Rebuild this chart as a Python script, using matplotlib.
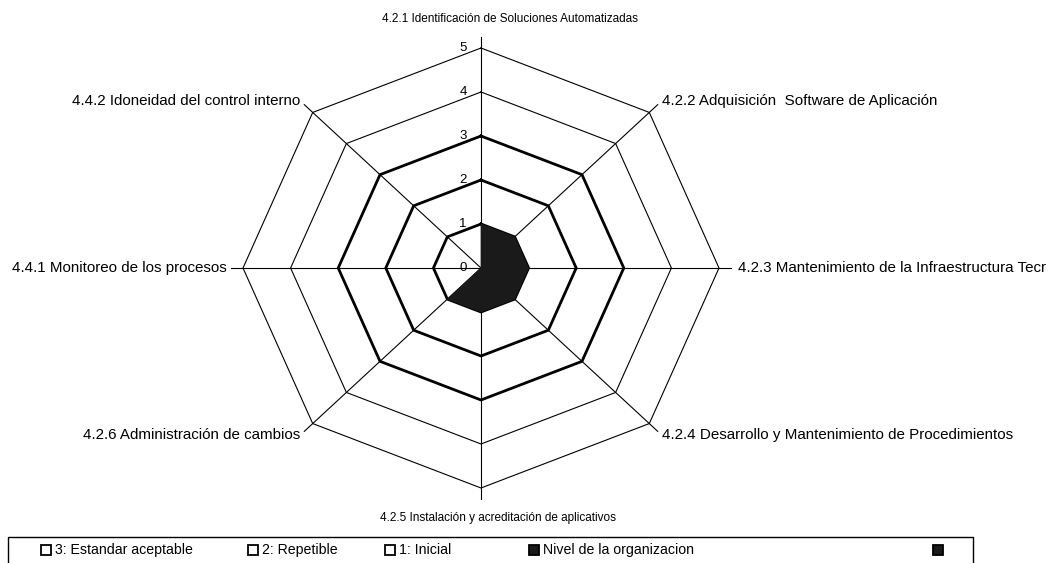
import numpy as np
import matplotlib
matplotlib.use("Agg")
import matplotlib.pyplot as plt
from matplotlib.patches import Rectangle

plt.rcParams['font.family'] = ['Liberation Sans', 'DejaVu Sans']

categories = [
    "4.2.1 Identificación de Soluciones Automatizadas",
    "4.2.2 Adquisición  Software de Aplicación",
    "4.2.3 Mantenimiento de la Infraestructura Tecr",
    "4.2.4 Desarrollo y Mantenimiento de Procedimientos",
    "4.2.5 Instalación y acreditación de aplicativos",
    "4.2.6 Administración de cambios",
    "4.4.1 Monitoreo de los procesos",
    "4.4.2 Idoneidad del control interno",
]
estandar_aceptable = [3, 3, 3, 3, 3, 3, 3, 3]
repetible = [2, 2, 2, 2, 2, 2, 2, 2]
inicial = [1, 1, 1, 1, 1, 1, 1, 1]
nivel_organizacion = [1, 1, 1, 1, 1, 1, 0, 0]
tick_values = [0, 1, 2, 3, 4, 5]
legend_labels = ["3: Estandar aceptable", "2: Repetible", "1: Inicial",
                 "Nivel de la organizacion", ""]

W, H = 1054, 563
fig = plt.figure(figsize=(W / 100, H / 100), dpi=100)
fig.patch.set_facecolor("white")

# radar axes: center at (481, 268) px from top-left
cx, cy = 481, 268
sx, sy = 47.6, 44.0  # px per unit
L = 6.0
ax = fig.add_axes([(cx - L * sx) / W, (H - cy - L * sy) / H,
                   2 * L * sx / W, 2 * L * sy / H])
ax.set_xlim(-L, L)
ax.set_ylim(-L, L)
ax.axis("off")

n = len(categories)
theta = np.arange(n) * 2 * np.pi / n


def xy(vals):
    v = np.asarray(vals, dtype=float)
    x = v * np.sin(theta)
    y = v * np.cos(theta)
    return np.append(x, x[0]), np.append(y, y[0])


# grid octagons
for t in tick_values[1:]:
    gx, gy = xy([t] * n)
    ax.plot(gx, gy, color="black", lw=0.8, zorder=1)
# spokes
for th in theta:
    ax.plot([0, 5.25 * np.sin(th)], [0, 5.25 * np.cos(th)],
            color="black", lw=0.8, zorder=1)

# series
for vals in (estandar_aceptable, repetible, inicial):
    px, py = xy(vals)
    ax.plot(px, py, color="black", lw=2.0, zorder=2)
px, py = xy(nivel_organizacion)
ax.fill(px, py, color="#1a1a1a", zorder=3, lw=0.5)

# value labels
for t in tick_values:
    ax.text(-0.3, t, str(t), ha="right", va="center", fontsize=9.5, zorder=4)

# category labels
lab_r = [5.65, 5.38, 5.4, 5.38, 5.68, 5.38, 5.35, 5.38]
lab_dx = [0.6, 0, 0, 0, 0.35, 0, 0, 0]
for i, (lab, th) in enumerate(zip(categories, theta)):
    s, c = np.sin(th), np.cos(th)
    if abs(s) < 1e-6:
        ha, fs = "center", 8.5
    elif s > 0:
        ha, fs = "left", 10.9
    else:
        ha, fs = "right", 10.9
    ax.text(lab_r[i] * s + lab_dx[i], lab_r[i] * c, lab, ha=ha, va="center",
            fontsize=fs, clip_on=False)

# legend (manual box)
fig.patches.append(Rectangle((8 / W, -0.05), (973 - 8) / W, (H - 537) / H + 0.05,
                             transform=fig.transFigure, fill=False,
                             edgecolor="black", lw=1.0))
leg_x = [41, 248, 385, 529, 933]
leg_face = ["white", "white", "white", "#1a1a1a", "#1a1a1a"]
ly = 550
for lab, x0, fc in zip(legend_labels, leg_x, leg_face):
    fig.patches.append(Rectangle((x0 / W, (H - ly - 5) / H), 10 / W, 10 / H,
                                 transform=fig.transFigure, facecolor=fc,
                                 edgecolor="black", lw=1.3))
    fig.text((x0 + 14) / W, (H - ly) / H, lab, ha="left", va="center",
             fontsize=10.2)

fig.savefig("out.png", dpi=100)
